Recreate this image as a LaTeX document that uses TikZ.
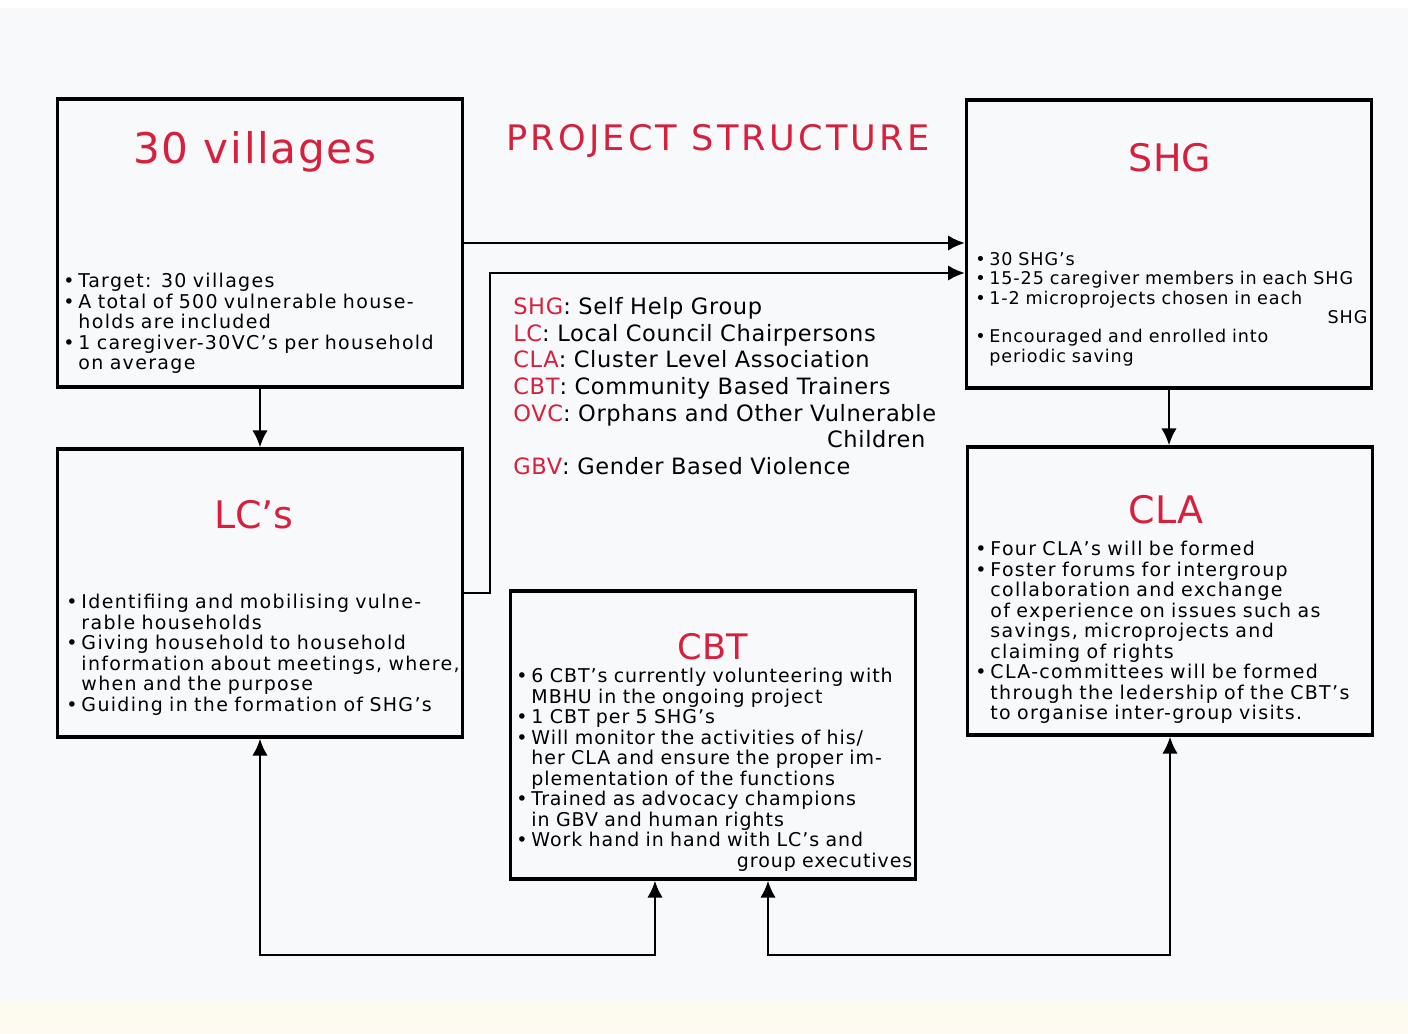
\documentclass[tikz,border=0pt]{standalone}
\usepackage{fontspec}
\setmainfont{DejaVu Sans}
\usetikzlibrary{arrows.meta}

\definecolor{ttred}{RGB}{214,32,62}
\definecolor{paper}{RGB}{248,249,251}
\definecolor{strip}{RGB}{253,251,240}

\newcommand{\bul}{\makebox[0.8em][l]{•}} % bullet of a point
\newcommand{\cnt}{\hspace*{0.8em}}       % a point that goes on
\newcommand{\rgt}[1]{\makebox[\linewidth][r]{#1}}

\tikzset{
  box/.style={draw, line width=2.3pt, minimum width=10.12cm, minimum height=7.2cm, inner sep=0pt},
  ttl/.style={text=ttred, font=\fontsize{27}{31}\selectfont},
  body/.style={anchor=north west, inner sep=0pt, align=left, text width=#1,
               font=\fontsize{13.5}{14.6}\selectfont\addfontfeature{LetterSpace=7}},
  arr/.style={line width=1.9pt, -{Latex[length=12pt,width=11pt]}},
  both/.style={line width=1.9pt, {Latex[length=12pt,width=11pt]}-{Latex[length=12pt,width=11pt]}}
}

\begin{document}
\begin{tikzpicture}[x=0.025cm, y=-0.025cm]
  \useasboundingbox (0,0) rectangle (1408,1033);
  \fill[paper] (0,8) rectangle (1408,1000); % the sheet
  \fill[strip] (0,1000) rectangle (1408,1033);

  \node[ttl, font=\fontsize{25}{29}\selectfont\addfontfeature{LetterSpace=9}] (head) at (718,141) {PROJECT STRUCTURE};

  % the five boxes
  \node[box] (vil) at (260,243) {};
  \node[box] (shg) at (1169,244) {};
  \node[box] (lcs) at (260,593) {};
  \node[box] (cla) at (1170,591) {};
  \node[box] (cbt) at (713,735) {};

  \node[ttl, font=\fontsize{30}{34}\selectfont\addfontfeature{LetterSpace=4}] (viltitle) at (255,152) {30 villages};
  \node[body=9.9cm] (viltxt) at (63,273) {\bul Target: 30 villages\\
    \bul A total of 500 vulnerable house-\\
    \cnt holds are included\\
    \bul 1 caregiver-30VC's per household\\
    \cnt on average};

  \node[ttl] (shgtitle) at (1170,158) {SHG};
  \node[body=9.8cm, font=\fontsize{12.5}{13.8}\selectfont\addfontfeature{LetterSpace=5}] (shgtxt) at (975,252) {\bul 30 SHG's\\
    \bul 15-25 caregiver members in each SHG\\
    \bul 1-2 microprojects chosen in each\\
    \rgt{SHG}\\
    \bul Encouraged and enrolled into\\
    \cnt periodic saving};

  \node[ttl] (lcstitle) at (254,515) {LC's};
  \node[body=9.9cm] (lcstxt) at (66,594) {\bul Identifiing and mobilising vulne-\\
    \cnt rable households\\
    \bul Giving household to household\\
    \cnt information about meetings, where,\\
    \cnt when and the purpose\\
    \bul Guiding in the formation of SHG's};

  \node[ttl] (clatitle) at (1166,510) {CLA};
  \node[body=9.9cm] (clatxt) at (975,541) {\bul Four CLA's will be formed\\
    \bul Foster forums for intergroup\\
    \cnt collaboration and exchange\\
    \cnt of experience on issues such as\\
    \cnt savings, microprojects and\\
    \cnt claiming of rights\\
    \bul CLA-committees will be formed\\
    \cnt through the ledership of the CBT's\\
    \cnt to organise inter-group visits.};

  \node[ttl, font=\fontsize{25}{29}\selectfont] (cbttitle) at (713,647) {CBT};
  \node[body=9.9cm, font=\fontsize{13.5}{14.6}\selectfont\addfontfeature{LetterSpace=5}] (cbttxt) at (516,668) {\bul 6 CBT's currently volunteering with\\
    \cnt MBHU in the ongoing project\\
    \bul 1 CBT per 5 SHG's\\
    \bul Will monitor the activities of his/\\
    \cnt her CLA and ensure the proper im-\\
    \cnt plementation of the functions\\
    \bul Trained as advocacy champions\\
    \cnt in GBV and human rights\\
    \bul Work hand in hand with LC's and\\
    \rgt{group executives}};

  % the abbreviations in the middle
  \node[anchor=north west, inner sep=0pt, align=left, text width=11.5cm,
        font=\fontsize{16}{19}\selectfont\addfontfeature{LetterSpace=3}] (abbr) at (513,297) {\textcolor{ttred}{SHG}: Self Help Group\\
    \textcolor{ttred}{LC}: Local Council Chairpersons\\
    \textcolor{ttred}{CLA}: Cluster Level Association\\
    \textcolor{ttred}{CBT}: Community Based Trainers\\
    \textcolor{ttred}{OVC}: Orphans and Other Vulnerable\\
    \makebox[10.3cm][r]{Children}\\
    \textcolor{ttred}{GBV}: Gender Based Violence};

  % connectors
  \draw[arr] (vil) -- (lcs);
  \draw[arr] (vil.east) -- (vil.east -| shg.west);
  \coordinate (bend) at (490,273); % LC's line turns up here
  \draw[arr] (lcs.east) -| (bend) -- (bend -| shg.west);
  \draw[arr] (shg.south) -- (shg.south |- cla.north);
  \coordinate (lowL) at (260,955);
  \coordinate (lowR) at (1170,955);
  \draw[both] (lcs.south) -- (lowL) -| ([xshift=-1.45cm]cbt.south); % LC's and CBT
  \draw[both] ([xshift=1.375cm]cbt.south) |- (lowR) -- (cla.south); % CBT and CLA
\end{tikzpicture}
\end{document}
